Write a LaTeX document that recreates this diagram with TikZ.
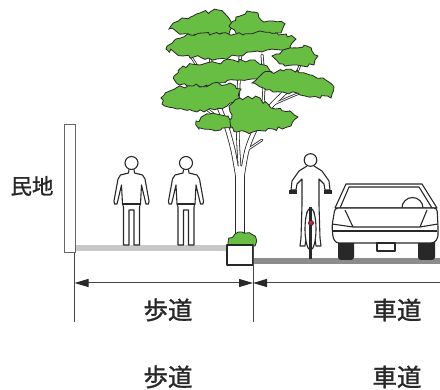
\documentclass[tikz,border=0pt]{standalone}
\usepackage{fontspec}
\newfontfamily\cjk[FakeBold=1.2]{Noto Sans CJK JP}
\usetikzlibrary{arrows.meta,decorations.pathmorphing}

\definecolor{leafgreen}{RGB}{104,190,66}
\definecolor{inkgray}{RGB}{40,40,40}
\definecolor{linegray}{RGB}{70,70,70}
\definecolor{walkgray}{RGB}{200,200,200}
\definecolor{roadgray}{RGB}{140,140,140}
\definecolor{lampred}{RGB}{205,35,45}

\tikzset{
  ink/.style={draw=inkgray, line width=1.1pt, line join=round},
  leaf/.style={fill=leafgreen, draw=inkgray, line width=0.8pt, line join=miter,
    decorate, decoration={random steps, segment length=4pt, amplitude=2pt}},
  dimline/.style={draw=linegray, line width=1pt},
  dimarrow/.style={draw=linegray, line width=1pt},
  dimtip/.tip={Triangle[length=14pt,width=8pt,fill=inkgray,color=inkgray]},
  captext/.style={font=\cjk\fontsize{24.5}{24.5}\selectfont, text=inkgray},
  walker/.pic={
    \draw[ink, fill=white] (-2.5,-75.5) -- (-3,-72) -- (-11,-70) -- (-13.5,-66)
      -- (-17.5,-44) -- (-17,-41) -- (-14.5,-41) -- (-13.5,-45) -- (-10,-60)
      -- (-9,-41) -- (-8,-38) -- (-8,0) -- (-2.5,0) -- (-2.5,-35) -- (2.5,-35)
      -- (2.5,0) -- (8,0) -- (8,-38) -- (9,-41) -- (10,-60) -- (13.5,-45)
      -- (14.5,-41) -- (17,-41) -- (17.5,-44) -- (13.5,-66) -- (11,-70)
      -- (3,-72) -- (2.5,-75.5);
    \draw[ink] (-9,-41) -- (9,-41);
    \draw[ink, fill=white] (0,-82) circle[radius=6.5];
  }
}

% branches: drawn once dark and wide, then once white and narrower
\newcommand\woodlayer[2]{%
  \draw[#1, line width=10pt-#2] (240,243) -- (240,170);
  \draw[#1, line width=5pt-#2] plot[smooth] coordinates {(238,178) (233,150) (226,125) (216,100) (203,75)};
  \draw[#1, line width=5pt-#2] plot[smooth] coordinates {(242,178) (247,150) (256,128) (272,105) (292,86)};
  \draw[#1, line width=3.5pt-#2] plot[smooth] coordinates {(240,172) (238,140) (238,100) (241,45)};
  \draw[#1, line width=3pt-#2] plot[smooth] coordinates {(226,125) (205,108) (182,98)};
  \draw[#1, line width=3pt-#2] plot[smooth] coordinates {(216,100) (212,80) (210,50)};
  \draw[#1, line width=2.5pt-#2] plot[smooth] coordinates {(203,75) (190,55)};
  \draw[#1, line width=3pt-#2] plot[smooth] coordinates {(256,128) (275,118) (290,112)};
  \draw[#1, line width=2.5pt-#2] plot[smooth] coordinates {(272,105) (300,93) (320,88)};
  \draw[#1, line width=3pt-#2] plot[smooth] coordinates {(262,115) (264,85) (262,55)};
  \draw[#1, line width=2.5pt-#2] plot[smooth] coordinates {(292,86) (300,65)};
  \draw[#1, line width=2.5pt-#2] plot[smooth] coordinates {(247,150) (262,140)};
}

\begin{document}
\begin{tikzpicture}[x=1pt, y=-1pt]
\pgfmathsetseed{12}
\useasboundingbox[fill=white] (0,0) rectangle (440,390);

% ground
\fill[walkgray] (75,245) rectangle (228,251);
\fill[roadgray] (253,258) rectangle (440,264);

% boundary wall
\draw[draw=gray!80!black, line width=1pt, fill=white] (64,125) rectangle (75,253);
\node[captext, font=\cjk\fontsize{21.5}{21.5}\selectfont] (minchi) at (32,186) {民地};

% tree
\woodlayer{inkgray, line cap=round}{0pt}
\woodlayer{white, line cap=round}{1.6pt}

\draw[leaf] (169,29) -- (182,18) -- (193,16) -- (200,13) -- (210,12) -- (218,10) -- (228,17)
  -- (233,25) -- (229,34) -- (217,35) -- (200,35) -- (183,34) -- cycle;
\draw[leaf] (229,26) -- (236,17) -- (247,11) -- (258,13) -- (261,20) -- (271,21) -- (285,24)
  -- (281,33) -- (267,37) -- (250,39) -- (237,35) -- cycle;
\draw[leaf] (166,49) -- (176,39) -- (190,35) -- (203,33) -- (223,33) -- (243,35) -- (260,31)
  -- (277,33) -- (296,39) -- (291,48) -- (267,50) -- (250,52) -- (237,56) -- (217,59)
  -- (200,57) -- (183,56) -- cycle;
\draw[leaf] (272,56) -- (283,50) -- (297,48) -- (307,46) -- (318,56) -- (314,65) -- (297,65)
  -- (283,64) -- cycle;
\draw[leaf] (174,76) -- (183,66) -- (200,65) -- (217,63) -- (233,60) -- (250,60) -- (264,65)
  -- (272,72) -- (261,77) -- (240,80) -- (217,84) -- (193,87) -- (179,85) -- cycle;
\draw[leaf] (252,83) -- (263,73) -- (283,71) -- (297,70) -- (310,75) -- (323,78) -- (334,87)
  -- (331,98) -- (317,97) -- (300,95) -- (283,92) -- (266,90) -- cycle;
\draw[leaf] (161,98) -- (176,88) -- (193,86) -- (210,85) -- (230,83) -- (241,89) -- (238,101)
  -- (217,109) -- (197,112) -- (177,109) -- (162,104) -- cycle;
\draw[leaf] (229,106) -- (240,98) -- (260,98) -- (271,108) -- (290,111) -- (298,117)
  -- (291,126) -- (273,129) -- (253,132) -- (237,132) -- (226,124) -- (232,115) -- cycle;
\draw[leaf] (196,121) -- (210,114) -- (228,116) -- (231,128) -- (213,130) -- (199,129) -- cycle;

% planter with shrub
\draw[leaf, decoration={random steps, segment length=3pt, amplitude=1.5pt}]
  (228,246) -- (229,238) -- (235,234) -- (242,232) -- (250,233) -- (256,238)
  -- (255,246) -- cycle;
\draw[ink, fill=white] (227,245) rectangle (253,265);

% pedestrians
\pic at (131.5,245) {walker};
\pic at (186,245) {walker};

% cyclist
\draw[ink, fill=white] (307,166) -- (299,171) -- (292,181) -- (291,190) -- (296,190)
  -- (297,184) -- (302,179) -- (302,205) -- (301,238) -- (300,246) -- (305,246)
  -- (306,238) -- (307,212) -- (314,212) -- (315,238) -- (316,246) -- (321,246)
  -- (320,238) -- (319,205) -- (319,179) -- (324,184) -- (325,190) -- (330,190)
  -- (329,181) -- (322,171) -- (314,166);
\draw[ink, fill=white] (310.5,160) circle[radius=6.3];
\fill[inkgray] (289,190) rectangle (297,194);
\fill[inkgray] (324,190) rectangle (332,194);
\draw[ink, fill=white] (310.5,229) ellipse[x radius=5.5, y radius=21];
\draw[inkgray, line width=3pt] (310.5,207) -- (310.5,259);
\draw[draw=inkgray, line width=0.6pt, fill=lampred] (311,223) circle[radius=2.6];

% car
\draw[ink, fill=white] (335,208) -- (346,184) -- (422,184) -- (437,208) -- cycle;
\draw[ink] (340,208) -- (349,187) -- (419,187) -- (432,208);
\draw[ink] (402,208) arc[start angle=180, end angle=360, radius=10.5];
\fill[inkgray, rounded corners=3pt] (338,238) rectangle (354,260);
\fill[inkgray, rounded corners=3pt] (418,238) rectangle (435,260);
\draw[ink, fill=white, rounded corners=3pt] (335,208) -- (332,226) -- (333,238)
  -- (336,243) -- (434,243) -- (438,238) -- (438,226) -- (437,208) -- cycle;
\draw[ink] (345,210) -- (353,227);
\draw[ink] (427,210) -- (420,227);
\draw[ink] (332,224) -- (353,227) -- (420,227) -- (438,224);
\draw[ink] (333,231) -- (437,231);
\draw[ink, fill=white] (377,243) rectangle (395,251);

% dimension lines
\coordinate (d0) at (74.5,253);
\coordinate (d1) at (253,245);
\coordinate (e0) at (74.5,322);
\coordinate (e1) at (253,322);
\coordinate (a0) at (74.5,283);
\coordinate (a1) at (253,283);
\coordinate (a2) at (440,283);
\draw[dimline] (d0) -- (e0);
\draw[dimline] (d1) -- (e1);
\draw[dimarrow, {dimtip}-{dimtip}] (a0) -- (a1);
\draw[dimarrow, {dimtip}-] (a1) -- (a2);

\node[captext] (walk1) at (168,310) {歩道};
\node[captext] (road1) at (397,310) {車道};
\node[captext] (walk2) at (168,377) {歩道};
\node[captext] (road2) at (397,377) {車道};
\end{tikzpicture}
\end{document}
